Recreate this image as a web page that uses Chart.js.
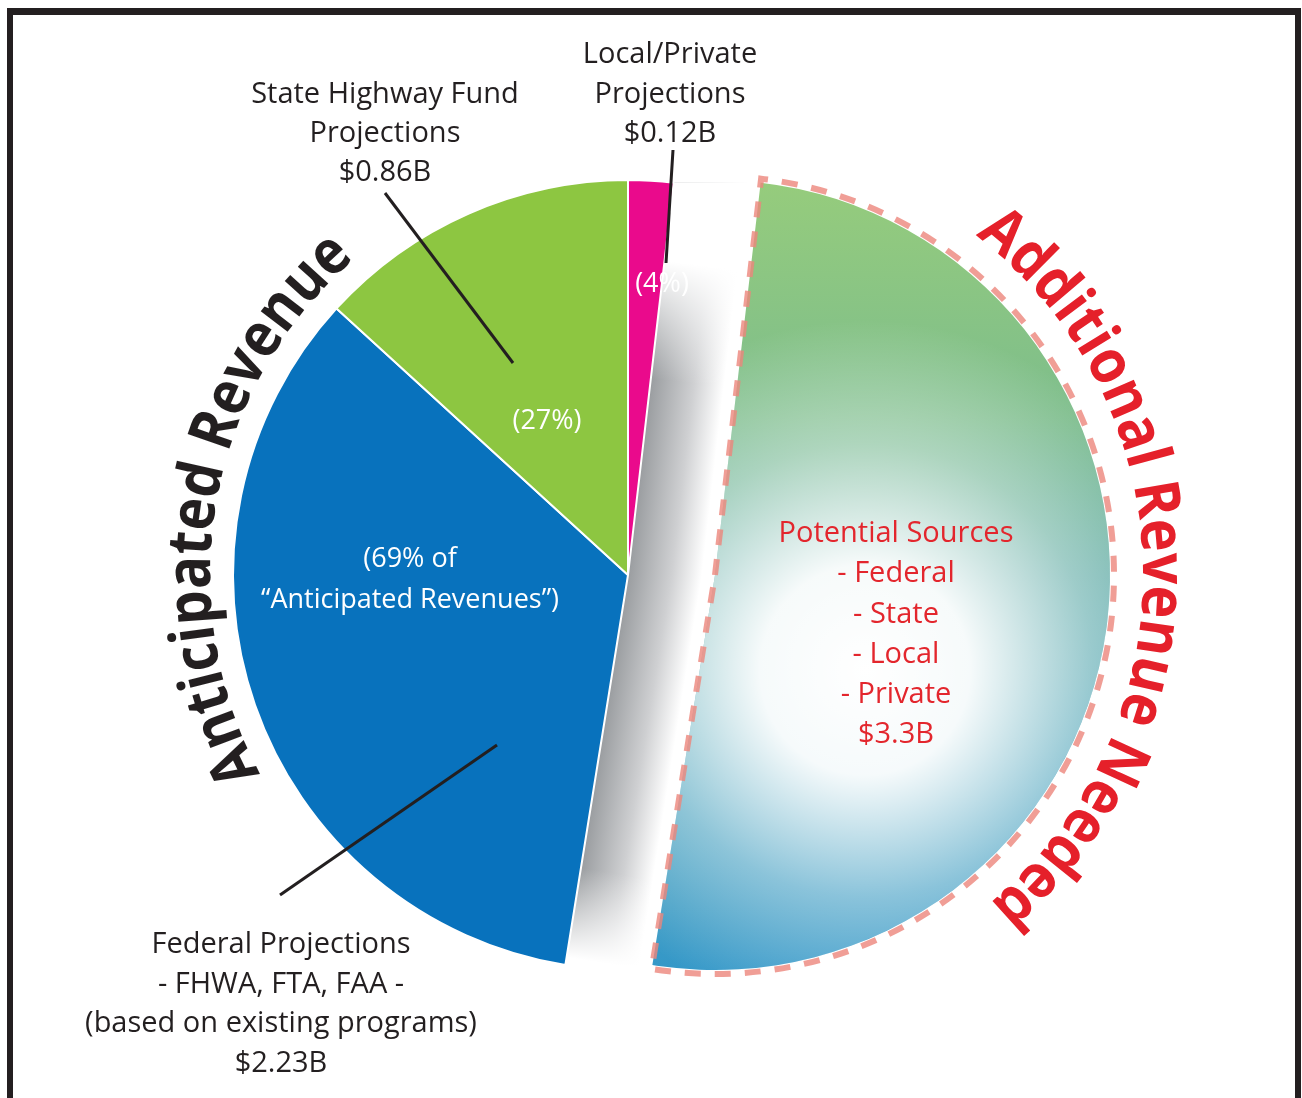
<!DOCTYPE html>
<html>
<head>
<meta charset="utf-8">
<title>Anticipated vs Additional Revenue</title>
<script src="https://cdn.jsdelivr.net/npm/chart.js@4.4.1/dist/chart.umd.min.js"></script>
<style>
  html, body { margin: 0; padding: 0; background: #fff; }
  canvas { display: block; }
</style>
</head>
<body>
<canvas id="pie" width="1302" height="1098"></canvas>
<script>
// slices clockwise from 12 o'clock, $ billions
const categories = ["Local/Private Projections", "Additional Revenue Needed", "Federal Projections", "State Highway Fund Projections"];
const revenue = [0.12, 3.3, 2.23, 0.86];
const sliceColors = ["#ea0a8c", "#62ad9f", "#0872bd", "#8dc641"];

const PIE_R = 395;
const EXPLODE = 87;     // how far the "additional" slice is pulled out
const DARK = "#231f20";
const RED = "#e3262d";
const LABEL_FONT = '29px "Open Sans"';
const PCT_FONT = '27px "Open Sans"';

const anticipatedTotal = revenue[0] + revenue[2] + revenue[3];
const pct = i => Math.round(revenue[i] / anticipatedTotal * 100) + "%";
const money = i => "$" + revenue[i] + "B";

function addFill(c) {
    const chart = c.chart;
    if (!chart.chartArea) return sliceColors[1];
    const cy = (chart.chartArea.top + chart.chartArea.bottom) / 2;
    const g = chart.ctx.createLinearGradient(0, cy - PIE_R, 0, cy + PIE_R);
    g.addColorStop(0, "#96cc7c");
    g.addColorStop(0.3, "#7dbd8c");
    g.addColorStop(0.5, "#5eaaa4");
    g.addColorStop(0.75, "#48a1ba");
    g.addColorStop(1, "#3598c8");
    return g;
}

// text along a circle, baseline on radius r, tops pointing outward,
// angles in degrees clockwise from 12 o'clock
function arcText(ctx, text, cx, cy, r, a0, a1, font, color) {
    ctx.save();
    ctx.font = font;
    ctx.fillStyle = color;
    ctx.textAlign = "center";
    ctx.textBaseline = "alphabetic";
    const chars = [...text];
    const widths = chars.map(ch => ctx.measureText(ch).width);
    const total = widths.reduce((s, w) => s + w, 0);
    const span = (a1 - a0) * Math.PI / 180;
    const k = span * r / total;
    let a = a0 * Math.PI / 180;
    chars.forEach((ch, i) => {
        const da = widths[i] * k / r;
        ctx.save();
        ctx.translate(cx, cy);
        ctx.rotate(a + da / 2);
        ctx.translate(0, -r);
        ctx.scale(k, 1);
        ctx.fillText(ch, 0, 0);
        ctx.restore();
        a += da;
    });
    ctx.restore();
}

function block(ctx, lines, x, y, lh, font, color) {
    ctx.save();
    ctx.font = font;
    ctx.fillStyle = color;
    ctx.textAlign = "center";
    ctx.textBaseline = "middle";
    lines.forEach((t, i) => ctx.fillText(t, x, y + i * lh));
    ctx.restore();
}

function leader(ctx, x1, y1, x2, y2) {
    ctx.save();
    ctx.strokeStyle = DARK;
    ctx.lineWidth = 3;
    ctx.beginPath();
    ctx.moveTo(x1, y1);
    ctx.lineTo(x2, y2);
    ctx.stroke();
    ctx.restore();
}

// pull the additional slice straight out to the right
const explode = {
    id: "explode",
    afterDatasetsUpdate(chart) {
        chart.getDatasetMeta(0).data[1].x += EXPLODE;
    }
};

const decor = {
    id: "decor",
    beforeDraw(chart) {
        const ctx = chart.ctx;
        ctx.save();
        ctx.fillStyle = DARK;
        ctx.fillRect(7, 8, 1294, 7);
        ctx.fillRect(7, 8, 6, 1090);
        ctx.fillRect(1295, 8, 6, 1090);
        ctx.restore();
    },
    beforeDatasetsDraw(chart) {
        // grey shadow in the gap between the pie and the pulled-out slice
        const ctx = chart.ctx;
        const arcs = chart.getDatasetMeta(0).data;
        const cx = arcs[0].x, cy = arcs[0].y, ex = arcs[1].x, ey = arcs[1].y;
        const R = arcs[0].outerRadius;
        const band = (a, f0, f1) => {
            const ux = Math.cos(a), uy = Math.sin(a);
            let nx = -uy, ny = ux;
            if (nx * (ex - cx) + ny * (ey - cy) < 0) { nx = -nx; ny = -ny; }
            const d = nx * (ex - cx) + ny * (ey - cy);
            ctx.beginPath();
            ctx.moveTo(cx, cy);
            ctx.lineTo(cx + R * ux, cy + R * uy);
            ctx.lineTo(ex + R * ux, ey + R * uy);
            ctx.lineTo(ex, ey);
            ctx.closePath();
            const g = ctx.createLinearGradient(cx, cy, cx + nx * d, cy + ny * d);
            g.addColorStop(0, "#9a9da0");
            g.addColorStop(0.5, "#cfd0d2");
            g.addColorStop(0.85, "#ffffff");
            g.addColorStop(1, "#ffffff");
            ctx.fillStyle = g;
            ctx.fill();
            const fg = ctx.createLinearGradient(cx, cy, cx + R * ux, cy + R * uy);
            fg.addColorStop(0, "rgba(255,255,255,0)");
            fg.addColorStop(f0, "rgba(255,255,255,0)");
            fg.addColorStop(f1, "rgba(255,255,255,1)");
            fg.addColorStop(1, "rgba(255,255,255,1)");
            ctx.fillStyle = fg;
            ctx.fill();
        };
        ctx.save();
        band(arcs[0].endAngle, 0.5, 0.8);
        band(arcs[2].startAngle, 0.75, 0.98);
        ctx.restore();
    },
    afterDatasetsDraw(chart) {
        const ctx = chart.ctx;
        const arcs = chart.getDatasetMeta(0).data;
        const cx = arcs[0].x, cy = arcs[0].y;
        const add = arcs[1];
        const ex = add.x, ey = add.y, R = add.outerRadius;

        // white glow inside the additional slice
        ctx.save();
        ctx.beginPath();
        ctx.moveTo(ex, ey);
        ctx.arc(ex, ey, R, add.startAngle, add.endAngle);
        ctx.closePath();
        const gx = ex + 150, gy = ey + 95;
        const rg = ctx.createRadialGradient(gx, gy, 0, gx, gy, 350);
        rg.addColorStop(0, "rgba(255,255,255,1)");
        rg.addColorStop(0.3, "rgba(255,255,255,0.95)");
        rg.addColorStop(0.65, "rgba(255,255,255,0.4)");
        rg.addColorStop(1, "rgba(255,255,255,0)");
        ctx.fillStyle = rg;
        ctx.fill();

        // dashed outline
        ctx.beginPath();
        ctx.moveTo(ex, ey);
        ctx.arc(ex, ey, R + 4, add.startAngle, add.endAngle);
        ctx.closePath();
        ctx.setLineDash([16, 14]);
        ctx.lineWidth = 6;
        ctx.strokeStyle = "rgba(236,134,124,0.8)";
        ctx.stroke();
        ctx.restore();

        // curved titles
        arcText(ctx, "Anticipated Revenue", cx, cy, 418, 241.6, 319.2, 'bold 62px "Open Sans"', DARK);
        arcText(ctx, "Additional Revenue Needed", ex, ey, 428, 37.5, 140.2, 'bold 62px "Open Sans"', "#e5202a");

        // leader lines
        leader(ctx, cx + 45, cy - 425, cx + 38, cy - 312);
        leader(ctx, cx - 243, cy - 382, cx - 115, cy - 212);
        leader(ctx, cx - 131, cy + 170, cx - 348, cy + 320);

        // callouts
        block(ctx, ["Local/Private", "Projections", money(0)], cx + 42, cy - 520, 39.5, LABEL_FONT, DARK);
        block(ctx, ["State Highway Fund", "Projections", money(3)], cx - 243, cy - 480, 39, LABEL_FONT, DARK);
        block(ctx, ["Federal Projections", "- FHWA, FTA, FAA -", "(based on existing programs)", money(2)],
            cx - 347, cy + 370, 39.5, LABEL_FONT, DARK);
        block(ctx, ["Potential Sources", "- Federal", "- State", "- Local", "- Private", money(1)],
            ex + 181, ey - 41, 40.2, LABEL_FONT, RED);

        // shares of anticipated revenue
        block(ctx, ["(" + pct(0) + ")"], cx + 34, cy - 291, 0, PCT_FONT, "#fff");
        block(ctx, ["(" + pct(3) + ")"], cx - 81, cy - 154, 0, PCT_FONT, "#fff");
        block(ctx, ["(" + pct(2) + " of", "\u201CAnticipated Revenues\u201D)"], cx - 218, cy - 16, 41, PCT_FONT, "#fff");
    }
};

new Chart(document.getElementById("pie"), {
    type: "pie",
    data: {
        labels: categories,
        datasets: [{
            data: revenue,
            backgroundColor: c => (c.dataIndex === 1 ? addFill(c) : sliceColors[c.dataIndex]),
            borderColor: "#ffffff",
            borderWidth: [2, 0, 2, 2]
        }]
    },
    options: {
        responsive: false,
        animation: false,
        events: [],
        radius: PIE_R,
        layout: { padding: { left: 0, right: 46, top: 52, bottom: 0 } },
        plugins: {
            legend: { display: false },
            tooltip: { enabled: false }
        }
    },
    plugins: [explode, decor]
});
</script>
</body>
</html>
